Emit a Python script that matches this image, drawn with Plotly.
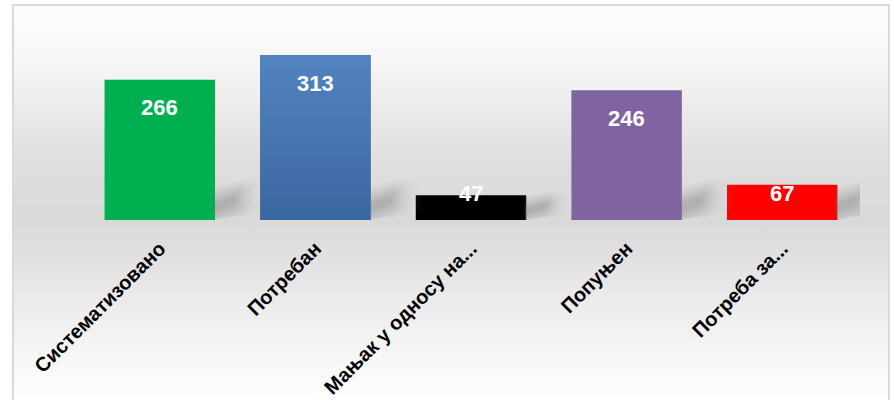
import plotly.graph_objects as go

# Staffing overview: five categories, one bar each
categories = ["Систематизовано", "Потребан", "Мањак у односу на...", "Попуњен", "Потреба за..."]
values = [266, 313, 47, 246, 67]
bar_colors = ["#00B050", "#4675B0", "#000000", "#8064A2", "#FF0000"]
# top / bottom colours for bars that carry a vertical gradient
bar_gradients = {1: ("#5283C0", "#3B67A0")}

W, H = 894, 400
x_dom = [82 / W, 860 / W]
y_dom = [0.45, 0.90]
y_max = 341.5
bar_width = 0.71

plot_h_px = (y_dom[1] - y_dom[0]) * H
px_per_unit = plot_h_px / y_max
unit_per_px_x = 5 / ((x_dom[1] - x_dom[0]) * W)

fig = go.Figure()

# Backdrop: vertical light-grey gradient inside the chart frame (pixel axes)
fig.add_trace(go.Scatter(
    x=[13, 889, 889, 13, 13], y=[0, 0, 395, 395, 0],
    mode="lines", line=dict(width=0), fill="toself",
    fillgradient=dict(
        type="vertical", start=0, stop=395,
        colorscale=[[0.0, "#ffffff"], [0.22, "#eeeeee"], [0.45, "#d9d9d9"],
                    [0.62, "#e0e0e0"], [0.85, "#f6f6f6"], [1.0, "#fdfdfd"]],
    ),
    hoverinfo="skip", showlegend=False, xaxis="x", yaxis="y",
))

# Soft diagonal shadows to the right of each bar, made of many
# overlapping faint bands so the edges fade out smoothly
for i, v in enumerate(values):
    xr = i + bar_width / 2
    s = min(1.0, v * px_per_unit / 35)
    c0, c1 = 12 * s, 28 * s          # band centre (px above baseline) at both ends
    for t in [40, 33, 27, 21, 16, 11, 7]:
        t = t * max(s, 0.6)
        span = (36 + t * 0.5) * unit_per_px_x
        lo0, hi0 = max(c0 - t / 2, 0), c0 + t / 2
        lo1, hi1 = max(c1 - t / 2, 0), c1 + t / 2
        fig.add_trace(go.Scatter(
            x=[xr - 0.01, xr - 0.01, xr + span, xr + span, xr - 0.01],
            y=[lo0 / px_per_unit, hi0 / px_per_unit, hi1 / px_per_unit,
               lo1 / px_per_unit, lo0 / px_per_unit],
            mode="lines", line=dict(width=0), fill="toself",
            fillgradient=dict(
                type="horizontal",
                colorscale=[[0, "rgba(110,110,110,0.07)"],
                            [0.45, "rgba(110,110,110,0.07)"],
                            [1, "rgba(217,217,217,0)"]],
            ),
            hoverinfo="skip", showlegend=False, xaxis="x2", yaxis="y2",
        ))

fig.add_trace(go.Bar(
    x=list(range(len(categories))), y=values, width=bar_width,
    marker=dict(color=bar_colors, line=dict(width=0)),
    hoverinfo="skip", showlegend=False, xaxis="x2", yaxis="y2",
))

# Vertical gradient fill laid over the bars that have one
for i, (top, bottom) in bar_gradients.items():
    x0, x1 = i - bar_width / 2, i + bar_width / 2
    fig.add_trace(go.Scatter(
        x=[x0, x1, x1, x0, x0], y=[0, 0, values[i], values[i], 0],
        mode="lines", line=dict(width=0), fill="toself",
        fillgradient=dict(type="vertical", start=0, stop=values[i],
                          colorscale=[[0, bottom], [1, top]]),
        hoverinfo="skip", showlegend=False, xaxis="x2", yaxis="y2",
    ))

# Value labels near the top of each bar (centred on short bars)
for i, v in enumerate(values):
    if v * px_per_unit - 28 > 27:
        y, shift = v, -28
    else:
        y, shift = 0, 27
    fig.add_annotation(
        x=i, y=y, yshift=shift, xref="x2", yref="y2", text=f"<b>{v}</b>",
        showarrow=False, yanchor="middle",
        font=dict(family="Liberation Sans, Arial", size=22, color="#ffffff"),
    )

# Chart frame
fig.add_shape(type="rect", xref="paper", yref="paper",
              x0=13 / W, x1=889 / W, y0=-0.05, y1=395 / H,
              line=dict(color="#d9d9d9", width=2), fillcolor="rgba(0,0,0,0)", layer="above")

fig.update_layout(
    width=W, height=H,
    margin=dict(l=0, r=0, t=0, b=0, autoexpand=False),
    paper_bgcolor="#ffffff", plot_bgcolor="rgba(0,0,0,0)",
    xaxis=dict(domain=[0, 1], range=[0, W], visible=False, fixedrange=True),
    yaxis=dict(domain=[0, 1], range=[0, H], visible=False, fixedrange=True),
    xaxis2=dict(
        domain=x_dom, range=[-0.5, 4.5], anchor="y2", automargin=False,
        tickmode="array", tickvals=list(range(len(categories))),
        ticktext=[f"<b>{c}</b>" for c in categories],
        tickangle=-45, ticks="", showgrid=False, zeroline=False, showline=False,
        tickfont=dict(family="Liberation Sans, Arial", size=20, color="#000000"),
        ticklabelstandoff=12,
    ),
    yaxis2=dict(domain=y_dom, range=[0, y_max], anchor="x2", visible=False,
                automargin=False),
    bargap=0.29,
)

fig.write_html("out.html")
